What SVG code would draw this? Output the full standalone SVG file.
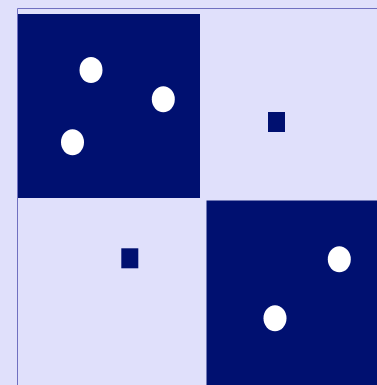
<svg xmlns="http://www.w3.org/2000/svg" width="377" height="385" viewBox="0 0 377 385">
<style>
.dark{fill:#001070}
.dot{fill:#ffffff}
.frame{fill:none;stroke:#7070c0;stroke-width:1}
</style>
<rect x="0" y="0" width="377" height="385" fill="#e0e0fb"/>
<path class="frame" d="M17.5,385 V8.5 H377"/>
<g id="block-top-left">
<rect class="dark" x="18" y="14" width="182" height="184"/>
<ellipse class="dot" cx="91" cy="70" rx="11.5" ry="13"/>
<ellipse class="dot" cx="163.3" cy="99.3" rx="11.5" ry="13"/>
<ellipse class="dot" cx="72.5" cy="142.3" rx="11.5" ry="13"/>
</g>
<g id="block-bottom-right">
<rect class="dark" x="206.5" y="200.5" width="171" height="185"/>
<ellipse class="dot" cx="339.3" cy="259.3" rx="11.5" ry="13"/>
<ellipse class="dot" cx="275" cy="318.3" rx="11.5" ry="13"/>
</g>
<g id="marker-top-right">
<rect class="dark" x="268" y="112" width="17" height="20"/>
</g>
<g id="marker-bottom-left">
<rect class="dark" x="121.3" y="248.3" width="17" height="20"/>
</g>
</svg>
